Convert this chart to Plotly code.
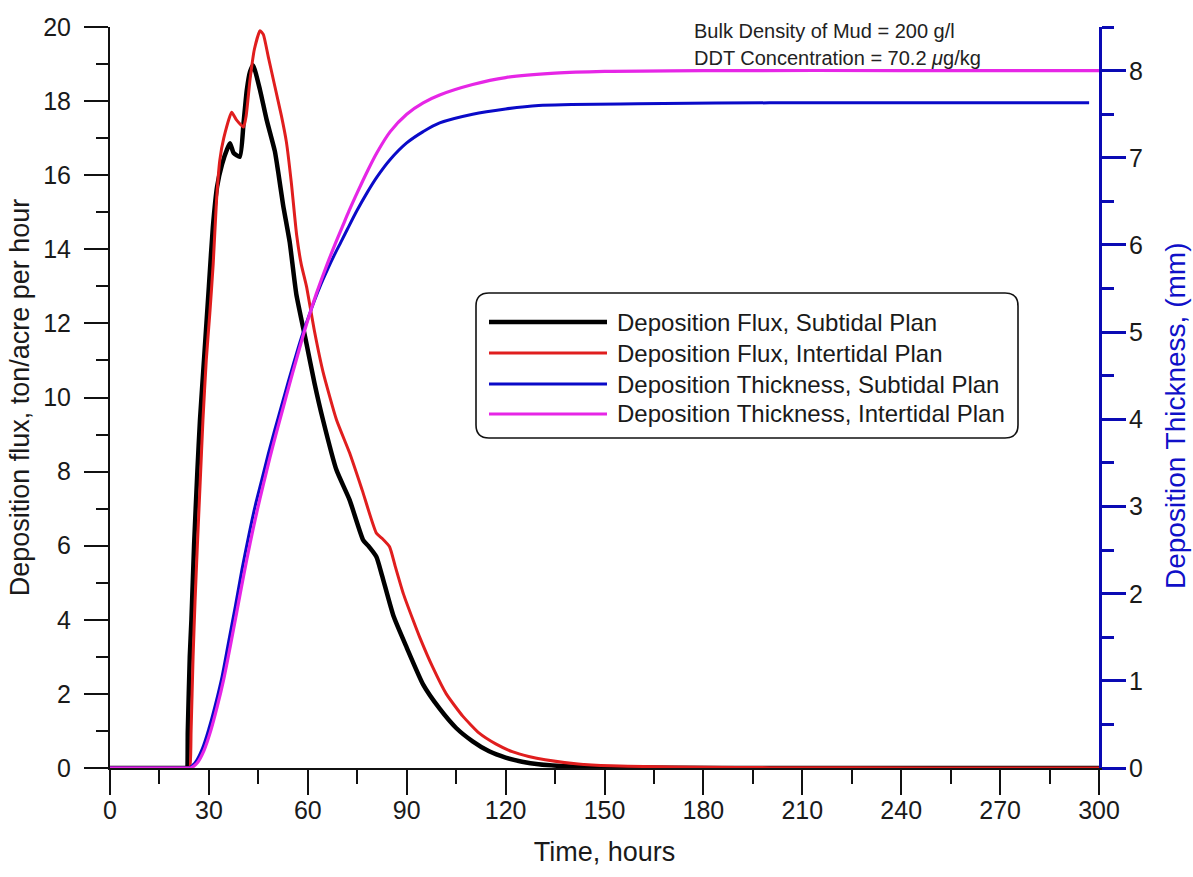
import plotly.graph_objects as go

# ---- data -------------------------------------------------------------
# Deposition flux (ton/acre per hour) vs time (hours)
t_flux_sub = [0, 8, 16, 21, 22.8, 23.3, 23.6, 24.2, 24.7, 25.5, 26.5, 27.3, 28.5, 30, 31.2,
              32.5, 34, 35.5, 36.4, 37.5, 39.4, 40.5, 41.5, 42.5, 43.4, 45.5, 47.5, 50, 51,
              52.5, 54.5, 56.5, 59.5, 62, 64.6, 68.7, 72.7, 76.8, 78.3, 80.8, 82.5, 86, 90,
              95, 100, 105, 110, 115, 120, 125, 130, 140, 150, 170, 200, 300]
flux_sub = [0, 0, 0, 0, 0, 0, 1.0, 3.0, 4.0, 6.0, 8.0, 9.4, 11.0, 13.0, 14.6,
            15.7, 16.3, 16.7, 16.86, 16.6, 16.5, 17.4, 18.3, 18.8, 18.97, 18.3, 17.5, 16.65, 16.1,
            15.2, 14.2, 12.8, 11.5, 10.4, 9.4, 8.04, 7.23, 6.15, 6.0, 5.7, 5.2, 4.1, 3.25,
            2.25, 1.6, 1.08, 0.72, 0.45, 0.28, 0.17, 0.1, 0.04, 0.02, 0.005, 0.001, 0]

t_flux_int = [0, 8, 16, 21, 23.6, 24.2, 24.6, 25.2, 25.8, 26.5, 27.3, 28.2, 29.2, 30.3, 31.3,
              32.3, 33.3, 34.5, 36.9, 38.3, 40.5, 41.3, 42.5, 43.8, 45.5, 46.5, 48, 50, 52,
              53.5, 55, 56.6, 58, 59.6, 62, 64.6, 68.7, 72.7, 76.5, 80.8, 82.5, 84.8, 86.5,
              89, 91.9, 93.9, 98, 102, 107, 112, 117, 122, 127, 132, 142, 152, 162, 180, 200,
              250, 300]
flux_int = [0, 0, 0, 0, 0, 0, 1.0, 3.0, 4.5, 6.0, 7.6, 9.4, 11.0, 12.3, 13.6,
            15.3, 16.4, 17.0, 17.7, 17.5, 17.3, 17.6, 18.6, 19.4, 19.9, 19.8, 19.2, 18.4, 17.6,
            16.9, 15.8, 14.4, 13.6, 13.0, 11.8, 10.7, 9.4, 8.5, 7.5, 6.34, 6.2, 5.97, 5.45,
            4.7, 4.0, 3.54, 2.7, 2.0, 1.4, 0.94, 0.65, 0.44, 0.31, 0.22, 0.11, 0.06, 0.04, 0.02, 0.01,
            0.003, 0]

# Deposition thickness (mm) vs time (hours)
t_thick_sub = [0, 8, 16, 21, 23, 24, 26, 28, 30, 32, 34, 36, 38, 40, 42, 44, 46, 48, 50, 52,
               54, 56, 58, 60, 62, 64, 66, 68, 70, 72, 75, 78, 81, 85, 90, 95, 100, 110, 120,
               130, 140, 160, 200, 250, 297]
thick_sub = [0, 0, 0, 0, 0, 0, 0.07, 0.22, 0.45, 0.73, 1.05, 1.45, 1.85, 2.27, 2.65, 3.0,
             3.3, 3.6, 3.88, 4.15, 4.42, 4.68, 4.93, 5.15, 5.36, 5.55, 5.72, 5.88, 6.03, 6.18,
             6.4, 6.6, 6.78, 6.98, 7.17, 7.3, 7.4, 7.5, 7.56, 7.6, 7.61, 7.62, 7.63, 7.63, 7.63]

t_thick_int = [0, 8, 16, 21, 23.5, 24.5, 26.5, 28.5, 30.5, 32.5, 34.5, 36.5, 38.5, 40.5, 42.5,
               44.5, 46.5, 48.5, 50.5, 52.5, 54.5, 56.5, 58.5, 60.5, 62.5, 64.5, 66.5, 68.5,
               70.5, 72.5, 75, 78, 81, 85, 90, 95, 100, 110, 120, 135, 150, 180, 240, 300]
thick_int = [0, 0, 0, 0, 0, 0, 0.06, 0.2, 0.42, 0.7, 1.02, 1.4, 1.8, 2.2, 2.58,
             2.93, 3.25, 3.56, 3.85, 4.13, 4.41, 4.68, 4.95, 5.2, 5.43, 5.64, 5.84, 6.03,
             6.21, 6.39, 6.6, 6.84, 7.06, 7.3, 7.5, 7.63, 7.72, 7.84, 7.92, 7.97, 7.99, 8.0, 8.0, 8.0]

series_names = ["Deposition Flux, Subtidal Plan", "Deposition Flux, Intertidal Plan",
                "Deposition Thickness, Subtidal Plan", "Deposition Thickness, Intertidal Plan"]
series_colors = ["#000000", "#e01e1e", "#0a0ac8", "#e626e6"]
series_widths = [4.5, 3, 3, 3.2]
series_smoothing = [0.5, 0.5, 0.9, 0.9]

x_ticks = list(range(0, 301, 30))
right_ticks = list(range(0, 9))
right_title = "Deposition Thickness, (mm)"
notes = ["Bulk Density of Mud = 200 g/l", "DDT Concentration = 70.2 <i>\u03bc</i>g/kg"]

# ---- figure -----------------------------------------------------------
FONT = "Liberation Sans, Arial, sans-serif"
W, H = 1193, 877
ML, MR, MT, MB = 110, 94, 27, 109
PW, PH = W - ML - MR, H - MT - MB
AXIS_BLUE = "#0a0ab4"

fig = go.Figure()
data = [(t_flux_sub, flux_sub, "y"), (t_flux_int, flux_int, "y"),
        (t_thick_sub, thick_sub, "y2"), (t_thick_int, thick_int, "y2")]
for i, (tx, vy, ax) in enumerate(data):
    fig.add_trace(go.Scatter(x=tx, y=vy, yaxis=ax, mode="lines", name=series_names[i],
                             line=dict(color=series_colors[i], width=series_widths[i],
                                       shape="spline", smoothing=series_smoothing[i]),
                             showlegend=False))

fig.update_layout(
    width=W, height=H,
    margin=dict(l=ML, r=MR, t=MT, b=MB, autoexpand=False),
    paper_bgcolor="white", plot_bgcolor="white",
    font=dict(family=FONT, size=25, color="#1a1a1a"),
    xaxis=dict(range=[0, 300], tickvals=x_ticks, showgrid=False, zeroline=False,
               showline=True, linecolor="#111", linewidth=2, ticks="outside",
               ticklen=25, tickwidth=1.5, tickcolor="#111", ticklabelstandoff=-6,
               minor=dict(dtick=15, ticks="outside", ticklen=14, tickwidth=2, tickcolor="#111"),
               title=dict(text="Time, hours", font=dict(size=27), standoff=19),
               layer="below traces", automargin=False),
    yaxis=dict(range=[0, 20], dtick=2, showgrid=False, zeroline=False,
               showline=True, linecolor="#111", linewidth=2, ticks="outside",
               ticklen=24, tickwidth=2, tickcolor="#111", ticklabelstandoff=8,
               minor=dict(dtick=1, ticks="outside", ticklen=12, tickwidth=2, tickcolor="#111"),
               title=dict(text="Deposition flux, ton/acre per hour", font=dict(size=27), standoff=6),
               automargin=False),
    # right axis: line and ticks only; its labels and title are placed as annotations
    yaxis2=dict(range=[0, 8.5], dtick=1, overlaying="y", side="right", anchor="x",
                showgrid=False, zeroline=False, showline=True, linecolor=AXIS_BLUE,
                linewidth=3, ticks="outside", ticklen=24, tickwidth=3, tickcolor=AXIS_BLUE,
                showticklabels=False,
                minor=dict(dtick=0.5, ticks="outside", ticklen=12, tickwidth=3, tickcolor=AXIS_BLUE),
                automargin=False),
)

# pixel -> paper helpers
def px_x(p):
    return (p - ML) / PW

def px_y(p):
    return (H - MB - p) / PH

for v in right_ticks:
    fig.add_annotation(x=px_x(1127), y=v, xref="paper", yref="y2", text=str(v),
                       showarrow=False, xanchor="left", yanchor="middle",
                       font=dict(size=25, color="#1a1a1a"))

fig.add_annotation(x=px_x(1176), y=px_y(416), xref="paper", yref="paper", text=right_title,
                   textangle=-90, showarrow=False, xanchor="center", yanchor="middle",
                   font=dict(size=28, color="#1010c8"))

# legend box with rounded corners
x0, x1, y0, y1, r = 476, 1018, 293, 438, 13
rx, ry = r / PW, r / PH
X0, X1, Y0, Y1 = px_x(x0), px_x(x1), px_y(y1), px_y(y0)
path = (f"M{X0+rx},{Y1} L{X1-rx},{Y1} Q{X1},{Y1} {X1},{Y1-ry} "
        f"L{X1},{Y0+ry} Q{X1},{Y0} {X1-rx},{Y0} L{X0+rx},{Y0} Q{X0},{Y0} {X0},{Y0+ry} "
        f"L{X0},{Y1-ry} Q{X0},{Y1} {X0+rx},{Y1} Z")
fig.add_shape(type="path", path=path, xref="paper", yref="paper",
              line=dict(color="#111", width=1.6), fillcolor="white", layer="above")

row_y = [322, 353, 384, 414]
for i, name in enumerate(series_names):
    yy = px_y(row_y[i])
    fig.add_shape(type="line", xref="paper", yref="paper", x0=px_x(489), x1=px_x(607),
                  y0=yy, y1=yy, line=dict(color=series_colors[i], width=series_widths[i]),
                  layer="above")
    fig.add_annotation(x=px_x(615), y=yy, xref="paper", yref="paper", text=name,
                       showarrow=False, xanchor="left", yanchor="middle",
                       font=dict(size=24, color="#1a1a1a"))

for i, note in enumerate(notes):
    fig.add_annotation(x=px_x(692), y=px_y(31 + 27 * i), xref="paper", yref="paper",
                       text=note, showarrow=False, xanchor="left", yanchor="middle",
                       font=dict(size=20, color="#222"))

fig.write_html("out.html")
